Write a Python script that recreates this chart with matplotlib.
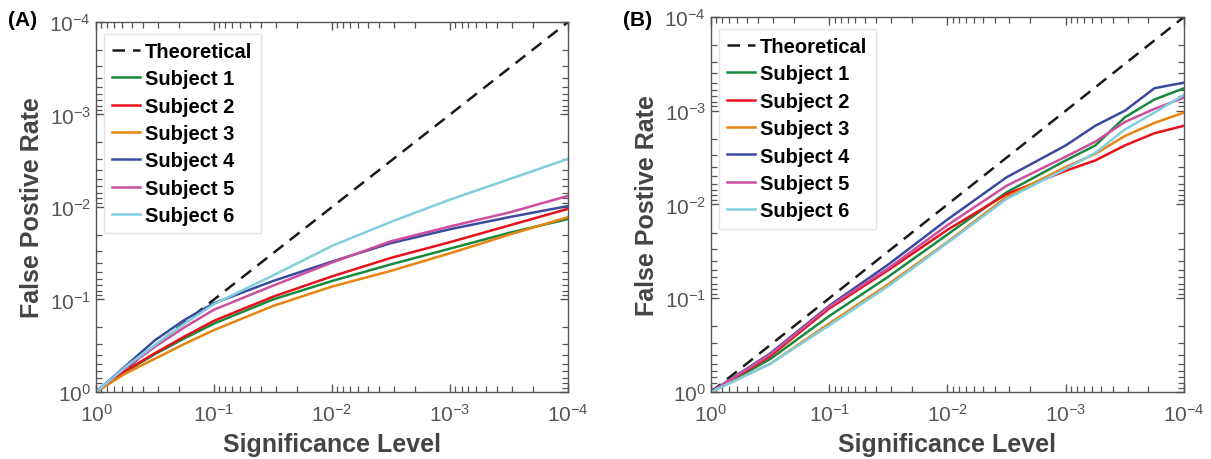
import matplotlib
matplotlib.use("Agg")
import matplotlib.pyplot as plt
from matplotlib.ticker import LogLocator, NullFormatter
import numpy as np

plt.rcParams["font.family"] = ["Liberation Sans", "DejaVu Sans"]
plt.rcParams["mathtext.fontset"] = "custom"
plt.rcParams["mathtext.rm"] = "Liberation Sans"
plt.rcParams["axes.unicode_minus"] = False

# significance level, log10 values (0 -> 1e0, -4 -> 1e-4)
log_alpha_a = [0, -0.25, -0.5, -0.75, -1, -1.5, -2, -2.5, -3, -3.5, -4]
log_alpha_b = [0, -0.5, -1, -1.5, -2, -2.5, -3, -3.25, -3.5, -3.75, -4]

# false positive rate, log10 values
fpr_a_s1 = [0, -0.22, -0.41, -0.58, -0.74, -1.00, -1.20, -1.38, -1.55, -1.72, -1.87]
fpr_a_s2 = [0, -0.23, -0.42, -0.60, -0.77, -1.03, -1.25, -1.45, -1.62, -1.80, -1.98]
fpr_a_s3 = [0, -0.20, -0.36, -0.52, -0.67, -0.93, -1.14, -1.31, -1.50, -1.70, -1.89]
fpr_a_s4 = [0, -0.28, -0.56, -0.78, -0.96, -1.20, -1.41, -1.61, -1.76, -1.89, -2.01]
fpr_a_s5 = [0, -0.26, -0.49, -0.70, -0.89, -1.15, -1.40, -1.63, -1.79, -1.94, -2.12]
fpr_a_s6 = [0, -0.27, -0.51, -0.74, -0.95, -1.26, -1.58, -1.84, -2.08, -2.30, -2.52]

# false positive rate, log10 values
fpr_b_s1 = [0, -0.35, -0.81, -1.23, -1.68, -2.13, -2.47, -2.63, -2.93, -3.12, -3.24]
fpr_b_s2 = [0, -0.38, -0.89, -1.30, -1.73, -2.11, -2.36, -2.47, -2.63, -2.76, -2.84]
fpr_b_s3 = [0, -0.30, -0.73, -1.15, -1.60, -2.08, -2.40, -2.54, -2.73, -2.87, -2.98]
fpr_b_s4 = [0, -0.41, -0.92, -1.36, -1.84, -2.29, -2.63, -2.84, -3.00, -3.24, -3.30]
fpr_b_s5 = [0, -0.40, -0.91, -1.32, -1.78, -2.20, -2.51, -2.67, -2.88, -3.02, -3.14]
fpr_b_s6 = [0, -0.30, -0.71, -1.13, -1.59, -2.06, -2.38, -2.55, -2.80, -2.98, -3.17]

subjects = ["Subject 1", "Subject 2", "Subject 3", "Subject 4", "Subject 5", "Subject 6"]
colors = ["#178a3e", "#e8111b", "#e8840f", "#3a4a9e", "#cc4f9f", "#80cde0"]

fig = plt.figure(figsize=(12.11, 4.6), dpi=100)
ax_a = fig.add_axes([0.0793, 0.1457, 0.3898, 0.8043])
ax_b = fig.add_axes([0.5871, 0.1457, 0.3906, 0.8152])

panels = [
    (ax_a, log_alpha_a, [fpr_a_s1, fpr_a_s2, fpr_a_s3, fpr_a_s4, fpr_a_s5, fpr_a_s6], "(A)"),
    (ax_b, log_alpha_b, [fpr_b_s1, fpr_b_s2, fpr_b_s3, fpr_b_s4, fpr_b_s5, fpr_b_s6], "(B)"),
]

gray = "#555555"
for ax, la, series, tag in panels:
    alpha = 10.0 ** np.array(la)
    ax.plot([1, 1e-4], [1, 1e-4], color="#1a1a1a", lw=1.8,
            linestyle=(0, (5, 3.2)), label="Theoretical")
    for name, col, s in zip(subjects, colors, series):
        ax.plot(alpha, 10.0 ** np.array(s), color=col, lw=1.8, label=name)

    ax.set_xscale("log")
    ax.set_yscale("log")
    ax.set_xlim(1, 1e-4)
    ax.set_ylim(1, 1e-4)
    for axis in (ax.xaxis, ax.yaxis):
        axis.set_major_locator(LogLocator(base=10, numticks=10))
        axis.set_minor_locator(LogLocator(base=10, subs=np.arange(2, 10), numticks=50))
        axis.set_minor_formatter(NullFormatter())
    ax.tick_params(which="both", direction="in", top=True, right=True,
                   colors=gray, labelcolor=gray, labelsize=15)
    ax.tick_params(which="major", length=6, width=1.0)
    ax.tick_params(which="minor", length=4, width=0.9)
    ax.tick_params(axis="x", which="major", pad=8)
    for sp in ax.spines.values():
        sp.set_color(gray)
        sp.set_linewidth(1.0)

    ax.set_xlabel("Significance Level", fontsize=18, fontweight="bold",
                  color="#444444", labelpad=5)
    ax.set_ylabel("False Postive Rate", fontsize=18, fontweight="bold",
                  color="#444444", labelpad=4)

    leg = ax.legend(loc="upper left", bbox_to_anchor=(0.004, 0.985),
                    prop={"weight": "bold", "size": 14.5}, frameon=True,
                    fancybox=False, handlelength=1.4, handletextpad=0.25,
                    labelspacing=0.42, borderpad=0.4, borderaxespad=0.3)
    leg.get_frame().set_edgecolor("#dddddd")
    leg.get_frame().set_linewidth(1.0)

    fig.text(ax.get_position().x0 - 0.073, 0.975, tag, fontsize=15,
             fontweight="bold", ha="left", va="top")

fig.savefig("out.png", dpi=100)
